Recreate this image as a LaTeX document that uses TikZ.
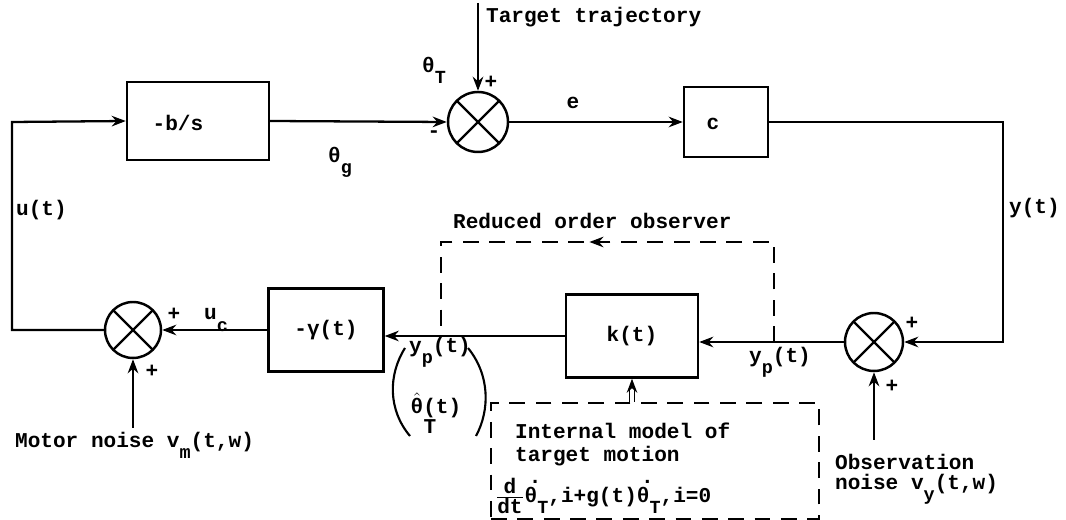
\documentclass[tikz,border=0pt]{standalone}
\usepackage{fontspec}
\setmainfont{Liberation Mono}
\usetikzlibrary{arrows.meta,decorations.markings}
\newcommand\lowsub[1]{\raisebox{-1.0ex}{\fontsize{10.5}{12}\selectfont #1}}
\newcommand\dotth{\makebox[0pt][l]{\hspace{0.2em}\raisebox{1.65ex}{.}}θ}
\begin{document}
\begin{tikzpicture}[x=0.02cm,y=-0.02cm,line width=1.3pt,
  font=\fontsize{12}{14}\selectfont\bfseries,
  blk/.style={draw,rectangle,inner sep=0pt,line width=1.4pt},
  sum/.style={draw,circle,inner sep=0pt,line width=1.4pt,
    path picture={\draw[line width=1.4pt]
      (path picture bounding box.north west) -- (path picture bounding box.south east)
      (path picture bounding box.north east) -- (path picture bounding box.south west);}},
  arr/.style={-{Stealth[length=8pt,width=6pt]}},
  obs/.style={dash pattern=on 9pt off 6pt,line width=1.2pt},
  lbl/.style={inner sep=0pt}]
\useasboundingbox (0,0) rectangle (1066,520);
% blocks
\node[blk,minimum width=2.84cm,minimum height=1.56cm] (b) at (198,121) {};
\node[lbl] at (178,123) {-b/s};
\node[sum,minimum size=1.2cm] (s1) at (478,122) {};
\node[blk,minimum width=1.68cm,minimum height=1.4cm] (c) at (726,122) {};
\node[lbl] at (713,124) {c};
\node[sum,minimum size=1.16cm] (s2) at (874,342) {};
\node[blk,minimum width=2.64cm,minimum height=1.66cm] (k) at (632,336) {k(t)};
\node[blk,minimum width=2.3cm,minimum height=1.66cm] (g) at (326,330) {-γ(t)};
\node[sum,minimum size=1.12cm] (s3) at (133,330) {};
\node[obs,draw,inner sep=0pt,minimum width=6.56cm,minimum height=2.32cm,anchor=north west] (im) at (490,402) {};
% coordinates
\coordinate (cl) at (12,122);
\coordinate (cr) at (1003,122);
\coordinate (tt) at (478,3);
\coordinate (mn) at (133,428);
\coordinate (on) at (874,440);
\coordinate (ob1) at (441,336);
\coordinate (ob2) at (774,342);
\coordinate (obt) at (600,242);
% connectors
\draw[arr] (s3.west) -| (cl) -- (b.west);
\draw[arr] (b.east) -- (s1.west);
\draw[arr] (tt) -- (s1.north);
\draw[arr] (s1.east) -- (c.west);
\draw[arr] (c.east) -- (cr) |- (s2.east);
\draw[arr] (on) -- (s2.south);
\draw[arr] (s2.west) -- (s2.west -| k.east);
\draw[arr] (k.west) -- (k.west -| g.east);
\draw[arr] (g.west) -- (s3.east);
\draw[arr] (mn) -- (s3.south);
\draw[obs,postaction={decorate,decoration={markings,mark=at position 0.54 with {\arrow{Stealth[length=8pt,width=6pt]}}}}]
  (ob2) -- (ob2 |- obt) -- (ob1 |- obt) -- (ob1);
\draw[arr,double,double distance=2pt,line width=0.8pt] (im.north -| k.south) -- (k.south);
% vector label parentheses
\draw[line width=1.2pt] (405,348) .. controls (388,375) and (388,410) .. (410,436);
\draw[line width=1.2pt] (468,348) .. controls (490,375) and (490,410) .. (476,436);
% labels
\node[lbl,anchor=west] at (485,17) {Target trajectory};
\node[lbl] at (434,70) {θ\lowsub{T}};
\node[lbl] at (491,82) {+};
\node[lbl] at (434,134) {-};
\node[lbl] at (340,162) {θ\lowsub{g}};
\node[lbl] at (573,103) {e};
\node[lbl,anchor=west] at (15,210) {u(t)};
\node[lbl,anchor=west] at (1008,208) {y(t)};
\node[lbl,anchor=west] at (452,221) {Reduced order observer};
\node[lbl] at (216,320) {u\lowsub{c}};
\node[lbl] at (174,314) {+};
\node[lbl] at (152,371) {+};
\node[lbl,anchor=west] at (14,445) {Motor noise v\lowsub{m}(t,w)};
\node[lbl] at (440,352) {y\lowsub{p}(t)};
\node[lbl] at (436,405) {$\hat{\mbox{θ}}$(t)};
\node[lbl] at (430,427) {T};
\node[lbl,anchor=west] at (748,362) {y\lowsub{p}(t)};
\node[lbl] at (912,323) {+};
\node[lbl] at (892,386) {+};
\node[lbl,anchor=west] at (834,462) {Observation};
\node[lbl,anchor=west] at (834,489) {noise v\lowsub{y}(t,w)};
\node[lbl,anchor=west] at (514,431) {Internal model of};
\node[lbl,anchor=west] at (514,456) {target motion};
\node[lbl,anchor=west] at (494,496) {$\frac{\mbox{d}}{\mbox{dt}}$\dotth\lowsub{T},i+g(t)\dotth\lowsub{T},i=0};
\end{tikzpicture}
\end{document}
